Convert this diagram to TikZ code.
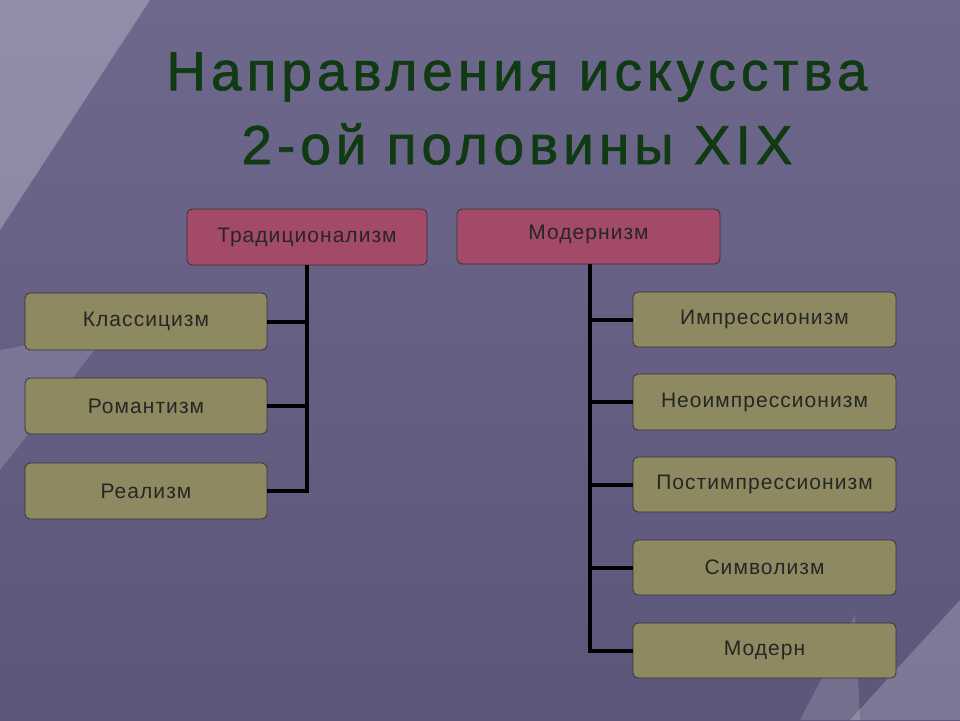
\documentclass[tikz,border=0pt]{standalone}
\usepackage{fontspec}
\setmainfont{Liberation Sans}
\newfontfamily\ttlfont[LetterSpace=9,FakeBold=1.2]{Liberation Sans}
\newfontfamily\boxfont[LetterSpace=5]{Liberation Sans}
\definecolor{bg}{HTML}{6E688D}
\definecolor{bgdark}{HTML}{5C567A}
\definecolor{topbox}{HTML}{A34A69}
\definecolor{lowbox}{HTML}{8E8960}
\definecolor{ttl}{HTML}{0F3A12}
\tikzset{
  topb/.style={draw=black!80, line width=0.8pt, fill=topbox, rounded corners=5pt, font=\boxfont\fontsize{21}{24}\selectfont, text=black!85},
  lowb/.style={draw=black!80, line width=0.8pt, fill=lowbox, rounded corners=5pt, font=\boxfont\fontsize{21}{24}\selectfont, text=black!85},
  conn/.style={line width=4pt, black},
  ttlstyle/.style={font=\ttlfont\fontsize{55}{60}\selectfont, text=ttl, draw=none}
}
\begin{document}
\begin{tikzpicture}[x=1pt,y=-1pt]
\useasboundingbox (0,0) rectangle (960,720);
\shade[top color=bg, bottom color=bgdark] (0,0) rectangle (960,720);
\fill[white,opacity=0.25] (0,0) -- (150,0) -- (0,230) -- cycle;
\fill[white,opacity=0.15] (0,350) -- (110,330) -- (0,470) -- cycle;
\fill[white,opacity=0.2] (960,600) -- (850,720) -- (960,720) -- cycle;
\fill[white,opacity=0.15] (860,720) -- (855,615) -- (800,720) -- cycle;
% title
\node[ttlstyle] (t1) at (517,77) {Направления искусства};
\node[ttlstyle] (t2) at (517,144) {2-ой половины XIX};
% top boxes
\node[topb, minimum width=240pt, minimum height=56pt] (trad) at (307,237) {Традиционализм};
\node[topb, minimum width=263pt, minimum height=55pt] (mod) at (588.5,236.5) {\raisebox{8pt}{Модернизм}};
% left boxes
\node[lowb, minimum width=242pt, minimum height=57pt] (kl) at (146,321.5) {Классицизм};
\node[lowb, minimum width=242pt, minimum height=56pt] (rom) at (146,406) {Романтизм};
\node[lowb, minimum width=242pt, minimum height=56pt] (real) at (146,491) {Реализм};
% right boxes
\node[lowb, minimum width=263pt, minimum height=55pt] (imp) at (764.5,319.5) {Импрессионизм};
\node[lowb, minimum width=263pt, minimum height=56pt] (neo) at (764.5,402) {Неоимпрессионизм};
\node[lowb, minimum width=263pt, minimum height=55pt] (post) at (764.5,484.5) {Постимпрессионизм};
\node[lowb, minimum width=263pt, minimum height=55pt] (sym) at (764.5,567.5) {Символизм};
\node[lowb, minimum width=263pt, minimum height=55pt] (mdn) at (764.5,650.5) {Модерн};
% connectors left
\coordinate (lt) at (trad.south);
\draw[conn] (lt) -- (lt |- real.east) -- (real.east);
\draw[conn] (lt |- kl.east) -- (kl.east);
\draw[conn] (lt |- rom.east) -- (rom.east);
% connectors right
\coordinate (rt) at (590,264);
\draw[conn] (rt) -- (rt |- mdn.west) -- (mdn.west);
\draw[conn] (rt |- imp.west) -- (imp.west);
\draw[conn] (rt |- neo.west) -- (neo.west);
\draw[conn] (rt |- post.west) -- (post.west);
\draw[conn] (rt |- sym.west) -- (sym.west);
\end{tikzpicture}
\end{document}
